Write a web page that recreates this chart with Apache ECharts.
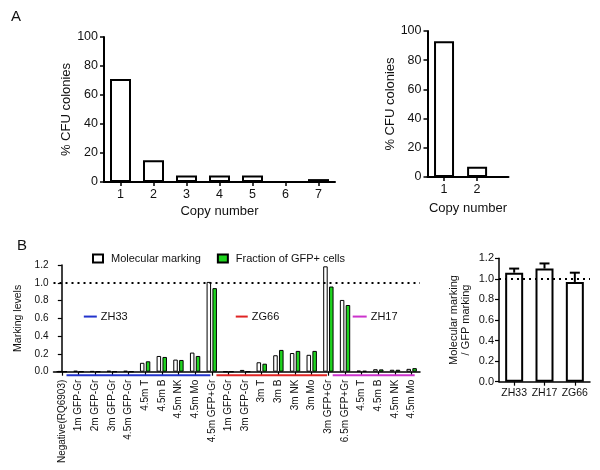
<!DOCTYPE html>
<html>
<head>
<meta charset="utf-8">
<script src="https://cdn.jsdelivr.net/npm/echarts@6/dist/echarts.min.js"></script>
<style>
  html, body { margin: 0; padding: 0; background: #fff; }
  #chart { width: 600px; height: 470px; }
</style>
</head>
<body>
<div id="chart"></div>
<script>
// panel A, left: copy number distribution
const copyNumbers = ['1', '2', '3', '4', '5', '6', '7']
const cfuPct = [71, 15, 4.5, 4.5, 4.5, 0, 2]
// panel A, right
const copyNumbers2 = [1, 2]
const cfuPct2 = [93, 7]

// panel B, left: marking levels per sample
const sampleLabels = [
  'Negative(RQ6903)', '1m GFP-Gr', '2m GFP-Gr', '3m GFP-Gr', '4.5m GFP-Gr',
  '4.5m T', '4.5m B', '4.5m NK', '4.5m Mo', '4.5m GFP+Gr',
  '1m GFP-Gr', '3m GFP-Gr', '3m T', '3m B', '3m NK', '3m Mo', '3m GFP+Gr',
  '6.5m GFP+Gr', '4.5m T', '4.5m B', '4.5m NK', '4.5m Mo'
]
const molecularMarking = [0, 0.01, 0.006, 0.01, 0.01, 0.10, 0.177, 0.136, 0.215, 1.01,
  0, 0.02, 0.106, 0.185, 0.21, 0.19, 1.185, 0.807, 0.012, 0.028, 0.022, 0.032]
const gfpFraction = [0, 0, 0, 0, 0, 0.117, 0.166, 0.132, 0.177, 0.94,
  0, 0, 0.09, 0.245, 0.234, 0.234, 0.958, 0.75, 0.01, 0.026, 0.022, 0.04]
// animal groups drawn under the axis: [name, colour, fromIndex, toIndex, keyFrom, keyTo]
const animalGroups = [
  ['ZH33', '#2233cc', 0.28, 8.92, 1.32, 2.1],
  ['ZG66', '#e02424', 9.28, 15.92, 10.44, 11.16],
  ['ZH17', '#cc33cc', 16.26, 21.18, 17.46, 18.3]
]

// panel B, right: ratio
const ratioGroups = ['ZH33', 'ZH17', 'ZG66']
const ratioMean = [1.06, 1.10, 0.97]
const ratioErr = [0.04, 0.05, 0.09]

const font = 'Liberation Sans, Arial, sans-serif'
const green = '#1fd41f'
const axisLine = (w) => ({ show: true, lineStyle: { color: '#000', width: w } })
const tick = (w) => ({ show: true, length: 4, lineStyle: { color: '#000', width: w } })

const chart = echarts.init(document.getElementById('chart'))

const groupSeries = []
animalGroups.forEach(g => {
  // coloured bar under the x axis
  groupSeries.push({
    type: 'line', xAxisIndex: 4, yAxisIndex: 2, clip: false, silent: true,
    symbol: 'none', lineStyle: { color: g[1], width: 2 },
    data: [[g[2], -0.04], [g[3], -0.04]]
  })
  // small key with the animal name
  groupSeries.push({
    type: 'line', xAxisIndex: 4, yAxisIndex: 2, clip: false, silent: true,
    symbol: 'none', lineStyle: { color: g[1], width: 2 },
    endLabel: { show: true, distance: 4, formatter: g[0],
      color: '#111', fontSize: 11, fontFamily: font },
    data: [[g[4], 0.62], [g[5], 0.62]]
  })
})

chart.setOption({
  animation: false,
  textStyle: { fontFamily: font },
  title: [
    { text: 'A', left: 6, top: 4, textStyle: { fontSize: 15, fontWeight: 'normal', color: '#111' } },
    { text: 'B', left: 12, top: 233, textStyle: { fontSize: 15, fontWeight: 'normal', color: '#111' } }
  ],
  legend: {
    data: ['Molecular marking', 'Fraction of GFP+ cells'],
    left: 87, top: 248, itemWidth: 10, itemHeight: 8, itemGap: 16,
    icon: 'rect',
    textStyle: { fontSize: 11, color: '#111', padding: [0, 0, 0, 3] }
  },
  grid: [
    { left: 104, right: 265, top: 37, bottom: 288 },
    { left: 427.5, right: 91.5, top: 31, bottom: 293 },
    { left: 53.5, right: 180, top: 265, bottom: 98.3 },
    { left: 499, right: 10, top: 258.3, bottom: 88.3 }
  ],
  xAxis: [
    {
      gridIndex: 0, type: 'category', data: copyNumbers,
      name: 'Copy number', nameLocation: 'middle', nameGap: 23,
      nameTextStyle: { fontSize: 13, color: '#111' },
      axisLine: axisLine(2), axisTick: { ...tick(1.5), alignWithLabel: true },
      axisLabel: { fontSize: 12.5, color: '#111', margin: 6 }
    },
    {
      gridIndex: 1, type: 'value', min: 0.5, max: 2.95,
      name: 'Copy number', nameLocation: 'middle', nameGap: 25,
      nameTextStyle: { fontSize: 13, color: '#111' },
      splitLine: { show: false },
      axisLine: axisLine(2),
      axisTick: { ...tick(1.5), customValues: copyNumbers2 },
      axisLabel: { fontSize: 12.5, color: '#111', margin: 6, customValues: copyNumbers2 }
    },
    {
      gridIndex: 2, type: 'category', data: sampleLabels,
      axisLine: axisLine(1.5), axisTick: { ...tick(1.2), alignWithLabel: true, interval: 0 },
      axisLabel: { rotate: 90, fontSize: 10, color: '#111', margin: 8, interval: 0 }
    },
    {
      gridIndex: 3, type: 'category', data: ratioGroups,
      axisLine: axisLine(1.5), axisTick: { ...tick(1.2), alignWithLabel: true, interval: 0 },
      axisLabel: { fontSize: 10.5, color: '#111', margin: 6, interval: 0 }
    },
    {
      gridIndex: 2, type: 'value', min: -0.5, max: 21.5, show: false
    }
  ],
  yAxis: [
    {
      gridIndex: 0, type: 'value', min: 0, max: 100, interval: 20,
      name: '% CFU colonies', nameLocation: 'middle', nameGap: 27,
      nameTextStyle: { fontSize: 13, color: '#111' },
      splitLine: { show: false }, axisLine: axisLine(2), axisTick: tick(1.5),
      axisLabel: { fontSize: 12.5, color: '#111', margin: 6 }
    },
    {
      gridIndex: 1, type: 'value', min: 0, max: 100, interval: 20,
      name: '% CFU colonies', nameLocation: 'middle', nameGap: 24,
      nameTextStyle: { fontSize: 13, color: '#111' },
      splitLine: { show: false }, axisLine: axisLine(2), axisTick: tick(1.5),
      axisLabel: { fontSize: 12.5, color: '#111', margin: 6 }
    },
    {
      gridIndex: 2, type: 'value', min: 0, max: 1.2, interval: 0.2,
      name: 'Marking levels', nameLocation: 'middle', nameGap: 27,
      nameTextStyle: { fontSize: 10.5, color: '#111' },
      splitLine: { show: false }, axisLine: axisLine(1.5), axisTick: tick(1.2),
      axisLabel: { fontSize: 10, color: '#111', margin: 5, formatter: v => v.toFixed(1) }
    },
    {
      gridIndex: 3, type: 'value', min: 0, max: 1.2, interval: 0.2,
      name: 'Molecular marking\n/ GFP marking', nameLocation: 'middle', nameGap: 27,
      nameTextStyle: { fontSize: 11, color: '#111', lineHeight: 12 },
      splitLine: { show: false }, axisLine: axisLine(1.5), axisTick: tick(1.2),
      axisLabel: { fontSize: 11, color: '#111', margin: 5, formatter: v => v.toFixed(1) }
    }
  ],
  series: [
    {
      type: 'bar', xAxisIndex: 0, yAxisIndex: 0, data: cfuPct, barWidth: 21,
      itemStyle: { color: '#fff', borderColor: '#000', borderWidth: 2 }
    },
    {
      type: 'bar', xAxisIndex: 1, yAxisIndex: 1, barWidth: 20,
      data: copyNumbers2.map((c, i) => [c, cfuPct2[i]]),
      itemStyle: { color: '#fff', borderColor: '#000', borderWidth: 2 }
    },
    {
      name: 'Molecular marking', type: 'bar', xAxisIndex: 2, yAxisIndex: 2,
      data: molecularMarking, barWidth: 4.5, barGap: '30%',
      itemStyle: { color: '#fff', borderColor: '#000', borderWidth: 1 },
      markLine: {
        silent: true, symbol: 'none', label: { show: false },
        lineStyle: { color: '#000', type: [2, 4], width: 1.8 },
        data: [{ yAxis: 1 }]
      }
    },
    {
      name: 'Fraction of GFP+ cells', type: 'bar', xAxisIndex: 2, yAxisIndex: 2,
      data: gfpFraction, barWidth: 4.5, barGap: '30%',
      itemStyle: { color: green, borderColor: '#000', borderWidth: 1 }
    },
    ...groupSeries,
    {
      type: 'bar', xAxisIndex: 3, yAxisIndex: 3, data: ratioMean, barWidth: 18,
      itemStyle: { color: '#fff', borderColor: '#000', borderWidth: 2 },
      z: 2,
      markLine: {
        silent: true, symbol: 'none', label: { show: false },
        lineStyle: { color: '#000', type: [2, 4], width: 1.8 },
        data: [{ yAxis: 1 }]
      }
    },
    {
      type: 'custom', xAxisIndex: 3, yAxisIndex: 3, z: 3,
      data: ratioGroups.map((g, i) => [i, ratioMean[i], ratioErr[i]]),
      renderItem: (params, api) => {
        const base = api.coord([api.value(0), api.value(1)])
        const top = api.coord([api.value(0), api.value(1) + api.value(2)])
        const style = { stroke: '#000', lineWidth: 2 }
        return {
          type: 'group',
          children: [
            { type: 'line', shape: { x1: base[0], y1: base[1], x2: top[0], y2: top[1] }, style },
            { type: 'line', shape: { x1: top[0] - 5, y1: top[1], x2: top[0] + 5, y2: top[1] }, style }
          ]
        }
      }
    }
  ]
})
</script>
</body>
</html>
